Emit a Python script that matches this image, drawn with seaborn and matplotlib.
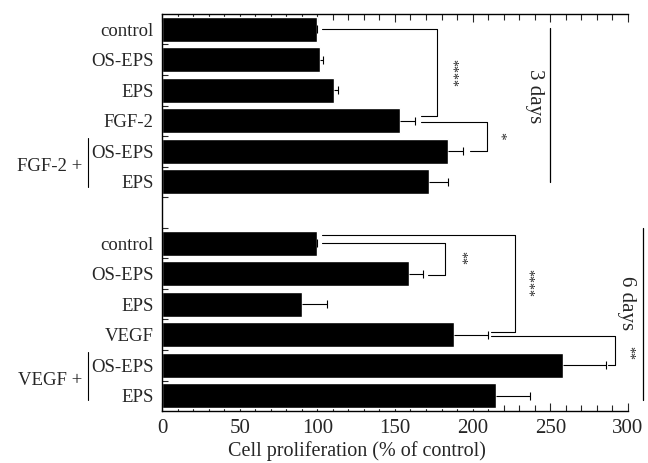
import matplotlib
matplotlib.use("Agg")
import matplotlib.pyplot as plt
from matplotlib.ticker import MultipleLocator, FixedLocator
import numpy as np
import pandas as pd
import seaborn as sns

# values (% of control)
labels_3d = ["control", "OS-EPS", "EPS", "FGF-2", "OS-EPS", "EPS"]
values_3d = [100, 102, 111, 153, 184, 172]
errors_3d = [0, 1.5, 2.5, 10, 10, 12]

labels_6d = ["control", "OS-EPS", "EPS", "VEGF", "OS-EPS", "EPS"]
values_6d = [100, 159, 90, 188, 258, 215]
errors_6d = [0, 9, 16, 22, 28, 22]

sns.set_theme(style="ticks")
plt.rcParams["font.family"] = ["Liberation Serif", "DejaVu Serif"]

ids_3d = [f"3d_{i}" for i in range(len(labels_3d))]
ids_6d = [f"6d_{i}" for i in range(len(labels_6d))]
order = ids_3d + ["gap"] + ids_6d
df = pd.DataFrame({
    "slot": ids_3d + ids_6d,
    "value": values_3d + values_6d,
    "err": errors_3d + errors_6d,
})

fig = plt.figure(figsize=(6.48, 4.63), dpi=100)
ax = fig.add_axes([0.25, 0.112, 0.719, 0.858])

sns.barplot(data=df, x="value", y="slot", order=order, color="black",
            width=0.82, errorbar=None, saturation=1, ax=ax)

# one-sided error bars, cap only at the far end
ypos = [order.index(s) for s in df["slot"]]
_, caps, _ = ax.errorbar(df["value"], ypos, xerr=[np.zeros(len(df)), df["err"]],
                         fmt="none", ecolor="black", elinewidth=0.8,
                         capsize=3, capthick=0.8)
caps[0].set_visible(False)

ax.set_xlim(0, 300)
ax.set_ylim(12.5, -0.5)
ax.set_yticks(range(len(order)))
ax.set_yticklabels(labels_3d + [""] + labels_6d, fontsize=13.5)
ax.yaxis.set_minor_locator(FixedLocator(np.arange(0.5, 12.5, 1)))
ax.tick_params(axis="y", which="major", length=0, pad=6)
ax.tick_params(axis="y", which="minor", direction="in", length=4, width=0.8)
ax.xaxis.set_major_locator(MultipleLocator(50))
ax.xaxis.set_minor_locator(MultipleLocator(10))
ax.tick_params(axis="x", which="both", direction="in", top=True, labeltop=False,
               width=0.8, labelsize=15, pad=6)
ax.tick_params(axis="x", which="major", length=6)
ax.tick_params(axis="x", which="minor", length=4)
ax.set_ylabel("")
ax.set_xlabel("Cell proliferation (% of control)", fontsize=14.5, va="center")
ax.xaxis.set_label_coords(0.418, -0.1)
ax.spines["right"].set_visible(False)
for s in ["left", "top", "bottom"]:
    ax.spines[s].set_linewidth(1.0)
    ax.spines[s].set_color("black")

lw = 0.8
def bracket(x0, y0, xr, y1, x1, label, lx, ly, fs=10):
    ax.plot([x0, xr, xr, x1], [y0, y0, y1, y1], color="black", lw=lw, clip_on=False)
    ax.text(lx, ly, label, rotation=270, ha="center", va="center", fontsize=fs)

bracket(103, 0.0, 177, 2.85, 167, "****", 186, 1.45)
bracket(167, 3.05, 209, 4.0, 198, "*", 217, 3.5, fs=11)
bracket(103, 7.0, 182, 8.05, 171, "**", 192, 7.5)
bracket(103, 6.75, 227, 9.9, 212, "****", 235, 8.3)
bracket(212, 10.05, 292, 11.0, 287, "**", 300, 10.6)

ax.plot([250, 250], [-0.05, 5.0], color="black", lw=0.9, clip_on=False)
ax.text(240, 2.2, "3 days", rotation=270, ha="center", va="center", fontsize=15)
ax.plot([310, 310], [6.5, 12.15], color="black", lw=0.9, clip_on=False)
ax.text(299, 8.95, "6 days", rotation=270, ha="center", va="center", fontsize=15)

# group labels on the left
for name, y in [("FGF-2 +", 4.5), ("VEGF +", 11.5)]:
    ax.text(-0.17, y, name, transform=ax.get_yaxis_transform(), ha="right",
            va="center", fontsize=13.5)
    ax.plot([-0.158, -0.158], [y - 0.95, y + 0.65], color="black", lw=0.8,
            transform=ax.get_yaxis_transform(), clip_on=False)

fig.savefig("out.png", dpi=100)
